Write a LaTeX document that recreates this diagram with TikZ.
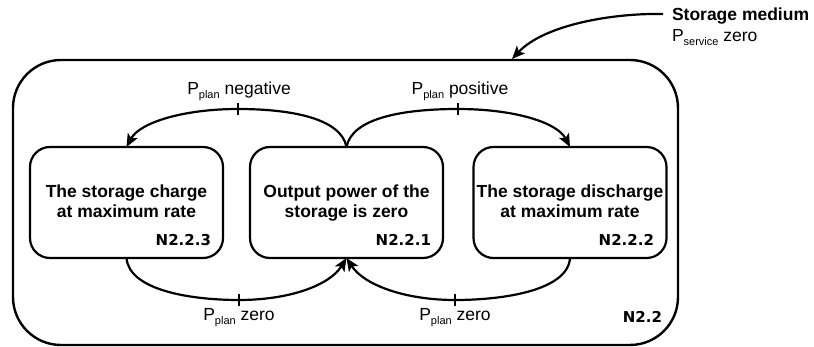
\documentclass[tikz,border=0pt]{standalone}
\usepackage{fontspec}
\setmainfont{Liberation Sans}
\newfontfamily\verd{DejaVu Sans}
\usetikzlibrary{arrows.meta}
\newcommand\psub[1]{\raisebox{-3.5pt}{\fontsize{11}{11}\selectfont #1}}
\begin{document}
\begin{tikzpicture}[x=1pt,y=-1pt,
  every node/.style={inner sep=0pt, outer sep=0pt},
  frame/.style={draw, line width=2.4pt, rounded corners=48pt, minimum width=665pt, minimum height=285pt},
  statebox/.style={draw, line width=2.2pt, rounded corners=20pt, minimum width=193pt, minimum height=111pt},
  boxtext/.style={font=\fontsize{17.5}{20}\selectfont\bfseries, align=center, anchor=base},
  idlabel/.style={font=\verd\fontsize{15}{16}\selectfont\bfseries, anchor=base east},
  plabel/.style={font=\fontsize{17.5}{20}\selectfont, anchor=base},
  conn/.style={line width=2.2pt, -{Stealth[length=13pt,width=11pt,inset=3pt]}},
  tick/.style={line width=2pt}
]
\useasboundingbox (0,0) rectangle (814,347);

% outer frame
\node[frame] (outer) at (345.5,202.5) {};
\node[idlabel] (n22) at (662,323) {N2.2};

% state boxes
\node[statebox] (b3) at (126.5,202.5) {};
\node[statebox] (b1) at (346.5,202.5) {};
\node[statebox] (b2) at (570,202.5) {};

% (base anchor of a two-line node = baseline of its last line)
\node[boxtext] (t3) at (126.5,218) {The storage charge\\at maximum rate};
\node[boxtext] (t1) at (346.5,218) {Output power of the\\storage is zero};
\node[boxtext] (t2) at (570,218) {The storage discharge\\at maximum rate};

\node[idlabel] (n223) at (211,246) {N2.2.3};
\node[idlabel] (n221) at (431,246) {N2.2.1};
\node[idlabel] (n222) at (654,246) {N2.2.2};

% storage medium label and arrow
\node[anchor=base west, align=left, font=\fontsize{17.5}{21}\selectfont] (sm) at (672,42)
  {\textbf{Storage medium}\\P\psub{service} zero};
\coordinate (smstart) at (663,14);
\coordinate (smtip) at (512,59);
\draw[conn] (smstart) .. controls (615,13) and (545,24) .. (smtip);

% tick coordinates
\coordinate (tkn) at (238,109);
\coordinate (tkp) at (458,109);
\coordinate (tkz1) at (239,300);
\coordinate (tkz2) at (455,300);

% upper transitions
\draw[conn] (b1.north) .. controls (341,118) and (290,109) .. (tkn)
  .. controls (185,109) and (140,122) .. (b3.north);
\draw[conn] (b1.north) .. controls (352,118) and (403,109) .. (tkp)
  .. controls (513,109) and (557,122) .. (b2.north);

% lower transitions
\draw[conn] (b3.south) .. controls (129,290) and (190,300) .. (tkz1)
  .. controls (290,300) and (330,285) .. (b1.south);
\draw[conn] (b2.south) .. controls (568,290) and (505,300) .. (tkz2)
  .. controls (405,300) and (364,285) .. (b1.south);

% ticks
\foreach \t in {tkn,tkp,tkz1,tkz2}
  \draw[tick] ([yshift=-6pt]\t) -- ([yshift=6pt]\t);

% transition labels
\node[plabel] (lneg) at (239,95) {P\psub{plan} negative};
\node[plabel] (lpos) at (460,95) {P\psub{plan} positive};
\node[plabel] (lz1) at (239,321) {P\psub{plan} zero};
\node[plabel] (lz2) at (455,321) {P\psub{plan} zero};
\end{tikzpicture}
\end{document}
